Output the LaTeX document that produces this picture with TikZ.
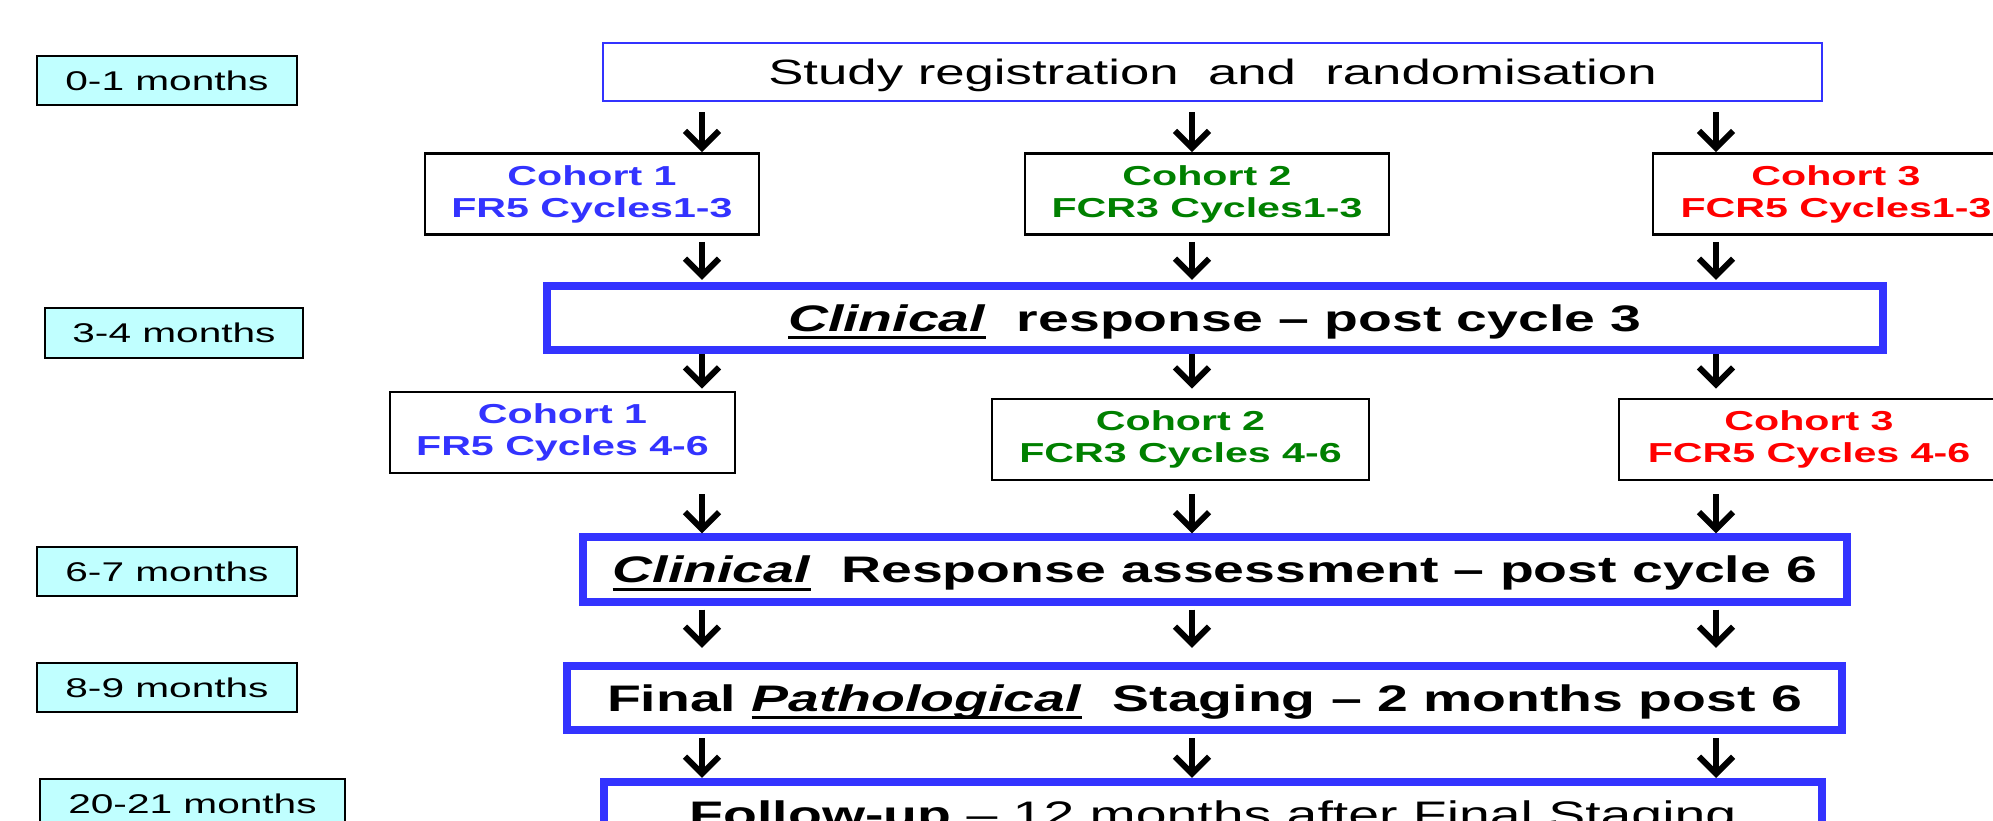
\documentclass[tikz,border=0pt]{standalone}
\usepackage{fontspec}
\setmainfont{Liberation Sans}[FakeStretch=1.5]
\usetikzlibrary{arrows.meta}

\newcommand\phaseul[1]{\setbox0\hbox{#1}\rlap{\rule[-2.3pt]{\wd0}{0.9pt}}\box0}

\definecolor{phaseblue}{HTML}{3333FF}
\definecolor{cohortblue}{HTML}{3333FF}
\definecolor{cohortgreen}{HTML}{008000}
\definecolor{cohortred}{HTML}{FF0000}
\definecolor{monthcyan}{HTML}{C0FFFF}

\tikzset{
	monthbox/.style={draw=black, line width=0.02cm, fill=monthcyan, inner sep=0pt, minimum height=0.49cm, text height=5.5pt, text depth=0pt, font=\fontsize{7.7}{9}\selectfont},
	cohortbox/.style={draw=black, line width=0.025cm, fill=white, inner sep=0pt, align=center, minimum height=0.81cm, font=\fontsize{7.8}{9.1}\selectfont\bfseries},
	startbox/.style={draw=phaseblue, line width=0.025cm, fill=white, inner sep=0pt, minimum height=0.575cm, text height=7.2pt, text depth=0pt, font=\fontsize{10}{12}\selectfont},
	phasebox/.style={draw=phaseblue, line width=0.08cm, fill=white, inner sep=0pt, minimum height=0.64cm, text height=7.5pt, text depth=0pt, font=\fontsize{10.5}{12}\selectfont\bfseries},
	flowarrow/.style={line width=0.06cm, -{Straight Barb[length=0.17cm, width=0.34cm]}}
}

\begin{document}
\begin{tikzpicture}[x=0.01cm, y=-0.01cm]
		%%%%% START %%%%%
		\useasboundingbox (0, 0) rectangle (1993, 821);
		\clip (0, 0) rectangle (1993, 821);
		
		% time line
		\node[monthbox, minimum width=2.60cm] (m01) at (167, 80.5) {0-1 months};
		\node[monthbox, minimum width=2.58cm] (m34) at (174, 333) {3-4 months};
		\node[monthbox, minimum width=2.60cm] (m67) at (167, 571.5) {6-7 months};
		\node[monthbox, minimum width=2.60cm] (m89) at (167, 687.5) {8-9 months};
		\node[monthbox, minimum width=3.05cm] (m2021) at (192.5, 803.5) {20-21 months};
		
		% arrow columns
		\coordinate (colA) at (702, 0);
		\coordinate (colB) at (1192, 0);
		\coordinate (colC) at (1716, 0);
		
		\node[startbox, minimum width=12.18cm] (start) at (1212.5, 72) {Study\ registration\ \ and\ \ randomisation};
		
		\node[cohortbox, minimum width=3.335cm, text=cohortblue] (c1a) at (592, 194) {Cohort 1\\FR5 Cycles1-3};
		\node[cohortbox, minimum width=3.635cm, text=cohortgreen] (c2a) at (1207, 194) {Cohort 2\\FCR3 Cycles1-3};
		\node[cohortbox, minimum width=3.655cm, text=cohortred] (c3a) at (1836, 194) {Cohort 3\\FCR5 Cycles1-3};
		
		\node[phasebox, minimum width=13.36cm] (resp3) at (1215, 318) {\phaseul{\textit{Clinical}}\ \ response -- post cycle 3};
		
		\node[cohortbox, minimum width=3.445cm, text=cohortblue] (c1b) at (562.5, 432.5) {Cohort 1\\FR5 Cycles 4-6};
		\node[cohortbox, minimum width=3.765cm, text=cohortgreen] (c2b) at (1180.5, 439.5) {Cohort 2\\FCR3 Cycles 4-6};
		\node[cohortbox, minimum width=3.795cm, text=cohortred] (c3b) at (1809, 439.5) {Cohort 3\\FCR5 Cycles 4-6};
		
		\node[phasebox, minimum width=12.64cm] (resp6) at (1215, 569.5) {\phaseul{\textit{Clinical}}\ \ Response\ assessment -- post cycle 6};
		\node[phasebox, minimum width=12.75cm] (final) at (1204.5, 698) {Final \phaseul{\textit{Pathological}}\ \ Staging -- 2 months post 6};
		\node[phasebox, minimum width=12.18cm, font=\fontsize{10.5}{12}\selectfont] (follow) at (1213, 814) {\textbf{Follow-up} -- 12 months\ after Final Staging};
		
		% registration to cohorts
		\draw[flowarrow, shorten <=0.1cm] (start.south -| colA) -- (c1a.north -| colA);
		\draw[flowarrow, shorten <=0.1cm] (start.south -| colB) -- (c2a.north -| colB);
		\draw[flowarrow, shorten <=0.1cm] (start.south -| colC) -- (c3a.north -| colC);
		
		\draw[flowarrow, shorten <=0.06cm, shorten >=0.02cm] (c1a.south -| colA) -- (resp3.north -| colA);
		\draw[flowarrow, shorten <=0.06cm, shorten >=0.02cm] (c2a.south -| colB) -- (resp3.north -| colB);
		\draw[flowarrow, shorten <=0.06cm, shorten >=0.02cm] (c3a.south -| colC) -- (resp3.north -| colC);
		
		\draw[flowarrow, shorten >=0.02cm] (resp3.south -| colA) -- (c1b.north -| colA);
		\draw[flowarrow, shorten >=0.09cm] (resp3.south -| colB) -- (c2b.north -| colB);
		\draw[flowarrow, shorten >=0.09cm] (resp3.south -| colC) -- (c3b.north -| colC);
		
		\draw[flowarrow, shorten <=0.2cm] (c1b.south -| colA) -- (resp6.north -| colA);
		\draw[flowarrow, shorten <=0.13cm] (c2b.south -| colB) -- (resp6.north -| colB);
		\draw[flowarrow, shorten <=0.13cm] (c3b.south -| colC) -- (resp6.north -| colC);
		
		\draw[flowarrow, shorten <=0.04cm, shorten >=0.14cm] (resp6.south -| colA) -- (final.north -| colA);
		\draw[flowarrow, shorten <=0.04cm, shorten >=0.14cm] (resp6.south -| colB) -- (final.north -| colB);
		\draw[flowarrow, shorten <=0.04cm, shorten >=0.14cm] (resp6.south -| colC) -- (final.north -| colC);
		
		\draw[flowarrow, shorten <=0.04cm] (final.south -| colA) -- (follow.north -| colA);
		\draw[flowarrow, shorten <=0.04cm] (final.south -| colB) -- (follow.north -| colB);
		\draw[flowarrow, shorten <=0.04cm] (final.south -| colC) -- (follow.north -| colC);
		
		%%%%% END %%%%%
\end{tikzpicture}
\end{document}
